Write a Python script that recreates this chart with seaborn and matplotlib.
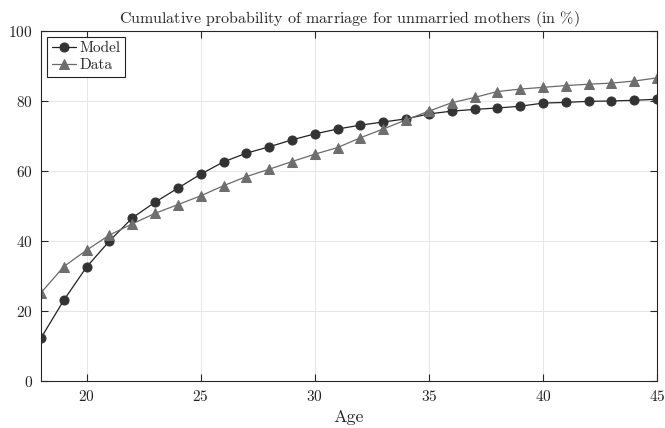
import matplotlib
matplotlib.use("Agg")
import matplotlib.pyplot as plt
import seaborn as sns

ages = list(range(18, 46))
model = [12.3, 23.1, 32.6, 40.0, 46.6, 51.1, 55.1, 59.1, 62.6, 65.1, 66.9, 68.9, 70.6, 72.0,
         73.1, 74.0, 74.9, 76.3, 77.1, 77.6, 78.0, 78.5, 79.4, 79.6, 79.9, 80.0, 80.2, 80.5]
data = [25.2, 32.7, 37.4, 41.7, 44.9, 47.9, 50.4, 52.9, 55.8, 58.4, 60.5, 62.7, 64.8, 66.7,
        69.5, 72.0, 74.6, 77.1, 79.5, 81.0, 82.7, 83.4, 83.9, 84.4, 84.8, 85.1, 85.7, 86.6]

sns.set_style("whitegrid", {"xtick.bottom": True, "ytick.left": True,
                            "xtick.top": True, "ytick.right": True,
                            "xtick.direction": "in", "ytick.direction": "in"})
plt.rcParams['font.family'] = ['cmr10', 'DejaVu Serif']
plt.rcParams['mathtext.fontset'] = 'cm'
plt.rcParams['axes.formatter.use_mathtext'] = True
plt.rcParams['xtick.major.size'] = 5
plt.rcParams['ytick.major.size'] = 5
plt.rcParams['xtick.major.width'] = 0.8
plt.rcParams['ytick.major.width'] = 0.8

fig = plt.figure(figsize=(6.65, 4.28), dpi=100)
ax = fig.add_axes([0.0617, 0.1098, 0.9263, 0.8178])

sns.lineplot(x=ages, y=model, ax=ax, color="#222222", marker="o", markersize=6.5,
             markerfacecolor="#333333", markeredgecolor="#333333", linewidth=0.9, label="Model")
sns.lineplot(x=ages, y=data, ax=ax, color="#6a6a6a", marker="^", markersize=7.5,
             markerfacecolor="#6e6e6e", markeredgecolor="#6e6e6e", linewidth=0.9, label="Data")

ax.set_xlim(18, 45)
ax.set_ylim(0, 100)
ax.set_xticks([20, 25, 30, 35, 40, 45])
ax.set_yticks([0, 20, 40, 60, 80, 100])
ax.tick_params(labelsize=11, color="#262626", labelcolor="#222222", pad=6)
ax.grid(True, color="#e6e6e6", linewidth=0.7)
for s in ax.spines.values():
    s.set_color("#262626")
    s.set_linewidth(0.8)

ax.set_xlabel("Age", fontsize=13, labelpad=4)
ax.set_title(r"Cumulative probability of marriage for unmarried mothers (in $\%$)", fontsize=11.5, pad=6)

leg = ax.legend(loc="upper left", fontsize=11, frameon=True, fancybox=False,
                borderpad=0.3, handlelength=1.6, handletextpad=0.2, labelspacing=0.2,
                borderaxespad=0.4)
leg.get_frame().set_edgecolor("#222222")
leg.get_frame().set_linewidth(0.8)
leg.get_frame().set_alpha(1)

fig.savefig("out.png", dpi=100)
